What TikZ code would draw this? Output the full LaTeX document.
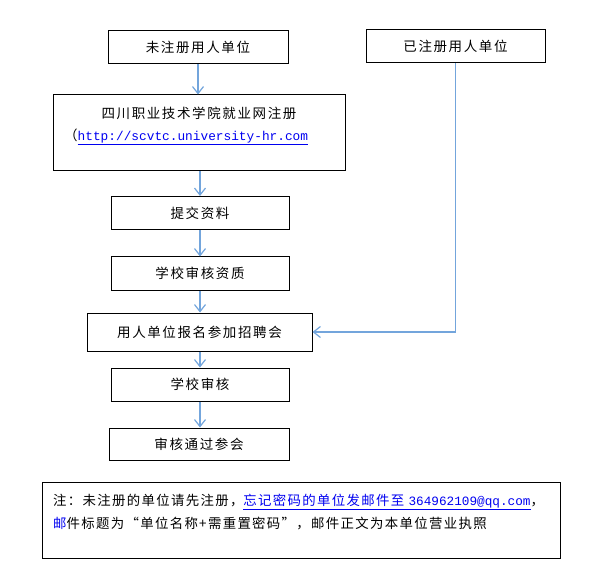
\documentclass[tikz,border=0pt]{standalone}
\usepackage{fontspec}
\setmainfont{Liberation Sans}
\newfontfamily\cjk[LetterSpace=12]{Noto Sans CJK SC}
\newfontfamily\cjknote[LetterSpace=10]{Noto Sans CJK SC}
\newfontfamily\mono{Liberation Mono}
\usetikzlibrary{arrows.meta}
\definecolor{arrblue}{RGB}{115,165,220}
\definecolor{linkblue}{RGB}{0,0,240}
\begin{document}
\begin{tikzpicture}[x=1pt,y=-1pt,
  box/.style={draw=black, line width=1pt, minimum width=178pt, minimum height=33pt, inner sep=0pt, font=\cjk\fontsize{13.5}{16}\selectfont},
  txt/.style={inner sep=0pt, font=\cjk\fontsize{13.5}{16}\selectfont},
  notetxt/.style={inner sep=0pt, anchor=west, font=\cjknote\fontsize{13.4}{16}\selectfont},
  arr/.style={draw=arrblue, line width=1.2pt, -{Straight Barb[length=7pt,width=11pt]}}]
\useasboundingbox (0,0) rectangle (594,569);
\node[box, minimum width=180pt] (b1) at (198,47.5) {未注册用人单位};
\node[box, minimum width=179pt] (b2) at (455.5,46.5) {已注册用人单位};
\node[box, minimum width=292pt, minimum height=76pt] (b3) at (199,133) {};
\node[txt] (b3a) at (199,113) {四川职业技术学院就业网注册};
\node[txt, anchor=west] (b3b) at (64,137) {（\textcolor{linkblue}{\underline{\mono\fontsize{12.8}{16}\selectfont http://scvtc.university-hr.com}}};
\node[box] (b4) at (200,213) {提交资料};
\node[box] (b5) at (200,273.5) {学校审核资质};
\node[box, minimum width=225pt, minimum height=38pt] (b6) at (199.5,332) {用人单位报名参加招聘会};
\node[box] (b7) at (200,384.5) {学校审核};
\node[box, minimum width=180pt, minimum height=32pt] (b8) at (199,444) {审核通过参会};
\node[draw=black, line width=1pt, minimum width=518pt, minimum height=76pt, inner sep=0pt] (note) at (301,520) {};
\node[notetxt] (n1) at (53,502) {注：未注册的单位请先注册，\textcolor{linkblue}{\underline{忘记密码的单位发邮件至 {\mono\fontsize{12.7}{16}\selectfont 364962109@qq.com}}}，};
\node[notetxt] (n2) at (53,524) {\textcolor{linkblue}{邮}件标题为“单位名称+需重置密码”，邮件正文为本单位营业执照};
\draw[arr] (b1.south) -- (b1.south |- b3.north);
\draw[arr] (b3.south -| b4.north) -- (b4.north);
\draw[arr] (b4.south) -- (b5.north);
\draw[arr] (b5.south) -- (b5.south |- b6.north);
\draw[arr] (b6.south -| b7.north) -- (b7.north);
\draw[arr] (b7.south) -- (b7.south |- b8.north);
\draw[arr] (b2.south) -- (b2.south |- b6.east) -- (b6.east);
\end{tikzpicture}
\end{document}
